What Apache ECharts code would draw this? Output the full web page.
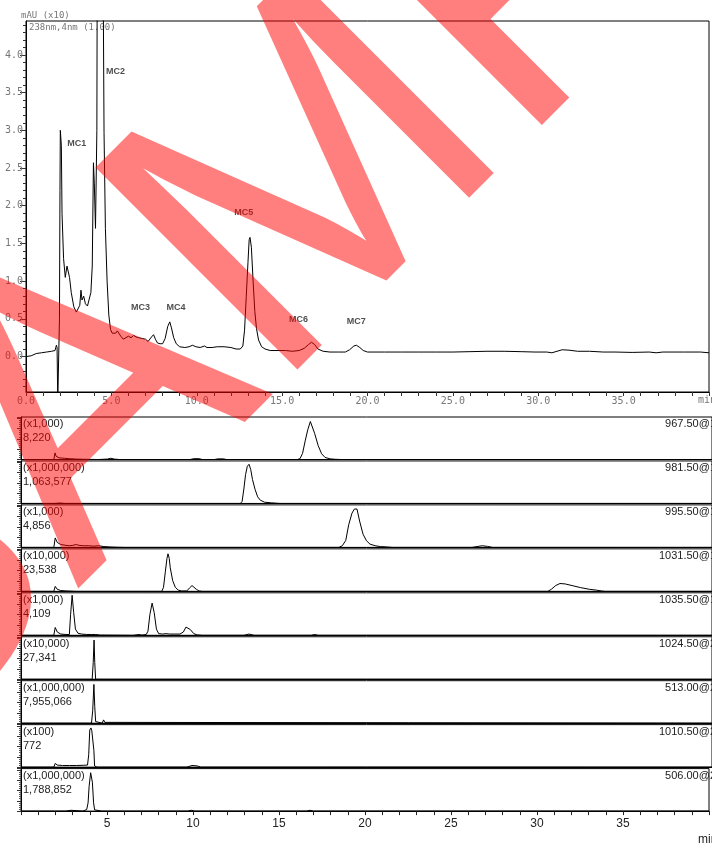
<!DOCTYPE html>
<html><head><meta charset="utf-8">
<script src="https://cdn.jsdelivr.net/npm/echarts@6/dist/echarts.min.js"></script>
<style>html,body{margin:0;padding:0;background:#fff}#c{width:712px;height:844px}</style>
</head><body><div id="c"></div>
<script>
// ---------- DATA ----------
const topYTickLabels = [0.0, 0.5, 1.0, 1.5, 2.0, 2.5, 3.0, 3.5, 4.0];
const topTrace = [[0,0],[0.3,0.01],[0.6,0.04],[0.9,0.05],[1.2,0.06],[1.5,0.07],[1.7,0.08],[1.78,0.15],[1.82,0.12],[1.86,-0.6],[1.94,-0.6],[1.96,0.5],[1.99,2.2],[2.01,3.0],[2.04,3.02],[2.07,2.8],[2.11,1.9],[2.2,1.3],[2.3,1.05],[2.4,1.2],[2.48,1.22],[2.55,1.05],[2.65,0.85],[2.8,0.66],[2.95,0.59],[3.05,0.6],[3.15,0.68],[3.22,0.88],[3.28,0.75],[3.38,0.8],[3.48,0.7],[3.6,0.67],[3.7,0.69],[3.8,0.85],[3.88,1.2],[3.95,2.57],[4.0,2.3],[4.07,1.7],[4.15,3.0],[4.2,8.0],[4.3,12],[4.45,12],[4.52,5.0],[4.57,2.97],[4.65,1.7],[4.75,1.0],[4.85,0.55],[4.95,0.36],[5.05,0.31],[5.15,0.33],[5.25,0.31],[5.35,0.34],[5.45,0.35],[5.55,0.27],[5.7,0.23],[5.85,0.25],[6.0,0.27],[6.15,0.25],[6.3,0.28],[6.45,0.26],[6.6,0.25],[6.8,0.24],[7.0,0.23],[7.15,0.2],[7.25,0.21],[7.35,0.26],[7.47,0.29],[7.58,0.23],[7.7,0.18],[7.85,0.17],[8.0,0.17],[8.15,0.24],[8.3,0.4],[8.42,0.46],[8.52,0.38],[8.65,0.25],[8.8,0.17],[9.0,0.13],[9.3,0.12],[9.55,0.13],[9.75,0.15],[9.95,0.13],[10.2,0.12],[10.45,0.14],[10.6,0.12],[10.9,0.12],[11.2,0.13],[11.6,0.13],[12.0,0.12],[12.3,0.1],[12.55,0.1],[12.7,0.14],[12.8,0.35],[12.9,0.8],[13.0,1.25],[13.07,1.55],[13.12,1.58],[13.2,1.45],[13.3,1.0],[13.4,0.6],[13.5,0.37],[13.62,0.22],[13.8,0.13],[14.0,0.1],[14.3,0.08],[14.7,0.08],[15.2,0.08],[15.6,0.07],[16.0,0.08],[16.3,0.11],[16.55,0.16],[16.72,0.19],[16.9,0.16],[17.1,0.1],[17.4,0.07],[17.8,0.06],[18.3,0.06],[18.7,0.06],[18.95,0.09],[19.2,0.14],[19.35,0.15],[19.55,0.12],[19.75,0.08],[20.0,0.06],[21,0.06],[22,0.06],[23,0.06],[24,0.06],[25,0.06],[26,0.065],[27,0.07],[28,0.07],[29,0.065],[29.8,0.06],[30.5,0.06],[30.8,0.05],[31.1,0.07],[31.4,0.09],[31.8,0.085],[32.3,0.07],[33,0.07],[33.8,0.06],[34.5,0.06],[35.5,0.055],[36.5,0.06],[36.9,0.05],[37.3,0.06],[38.5,0.06],[39.5,0.06],[40,0.05]];
const peakNames = ['MC1','MC2','MC3','MC4','MC5','MC6','MC7'];
const peakLabelT = [2.97, 5.24, 6.70, 8.79, 12.75, 15.96, 19.34];
const peakLabelV = [2.83, 3.78, 0.646, 0.646, 1.91, 0.487, 0.465];

const traceNames = ['967.50@1','981.50@1','995.50@1','1031.50@1','1035.50@1','1024.50@2','513.00@2','1010.50@2','506.00@2'];
const scaleLabels = ['(x1,000)','(x1,000,000)','(x1,000)','(x10,000)','(x1,000)','(x10,000)','(x1,000,000)','(x100)','(x1,000,000)'];
const maxLabels = ['8,220','1,063,577','4,856','23,538','4,109','27,341','7,955,066','772','1,788,852'];

const trace967 = [[0,0],[1.9,0],[1.97,16],[2.03,8],[2.2,4],[2.5,3],[2.8,2],[3.2,1],[3.6,0.5],[4.5,0],[5.0,1],[5.2,3],[5.4,1],[5.7,0],[9.8,0],[10.0,2],[10.3,2],[10.5,0],[11.2,0],[11.4,1.5],[11.7,1.5],[11.9,0],[16.0,0],[16.15,2],[16.3,15],[16.45,45],[16.6,72],[16.75,92],[16.85,93],[17.0,63],[17.2,34],[17.4,14],[17.6,5],[17.9,1.5],[18.2,0.5],[18.5,0],[40,0]];
const trace981 = [[0,0],[1.9,0],[2.0,2],[2.3,1],[2.5,0],[12.7,0],[12.8,5],[12.9,35],[13.0,70],[13.1,90],[13.2,95],[13.3,82],[13.4,58],[13.55,34],[13.7,16],[13.85,8],[14.1,3],[14.5,1.5],[14.8,0.5],[15,0],[40,0]];
const trace995 = [[0,0],[1.9,0],[1.98,23],[2.1,12],[2.3,7],[2.6,5],[2.8,4],[3.0,5],[3.2,7],[3.35,5],[3.6,4],[3.9,4],[4.2,3],[4.5,4],[4.8,2],[5.2,1],[5.5,0.5],[6,0],[18.4,0],[18.6,4],[18.8,17],[18.97,55],[19.16,83],[19.3,93],[19.45,93],[19.6,64],[19.8,32],[20.0,16],[20.2,8],[20.5,4],[20.8,2],[21.2,1],[21.5,0],[26.1,0],[26.4,2],[26.7,4],[27.0,2.5],[27.3,0],[40,0]];
const trace1031 = [[0,0],[1.9,0],[1.98,12],[2.1,5],[2.3,2],[2.6,1],[3.2,0],[4.0,0],[4.05,3],[4.12,0],[8.15,0],[8.25,10],[8.36,49],[8.45,80],[8.51,91],[8.58,80],[8.64,57],[8.78,26],[8.93,10],[9.1,3],[9.3,1],[9.6,1],[9.75,8],[9.9,14],[10.0,12],[10.15,5],[10.3,1],[10.5,0],[30.5,0],[30.7,5],[30.95,14],[31.2,19],[31.5,18],[31.9,14],[32.4,9],[32.9,5],[33.3,3],[33.6,1],[33.8,0],[40,0]];
const trace1035 = [[0,0],[1.9,0],[1.98,19],[2.1,8],[2.3,3],[2.6,2],[2.8,2],[2.87,50],[2.96,97],[3.05,55],[3.15,15],[3.3,5],[3.5,3],[3.8,2],[4.1,2],[4.2,4],[4.3,2],[4.6,0.5],[6.5,0],[6.85,2],[7.0,0.5],[7.25,2],[7.35,10],[7.46,50],[7.59,78],[7.71,55],[7.84,15],[7.97,4],[8.2,3],[8.4,4],[8.6,3],[9.2,3],[9.4,8],[9.55,20],[9.65,24],[9.8,14],[10.0,4],[10.2,1],[10.5,0],[12.9,0],[13.2,3],[13.5,0],[16.8,0],[17.0,2],[17.2,0],[40,0]];
const trace1024 = [[0,0],[4.12,0],[4.18,40],[4.23,95],[4.27,40],[4.32,0],[4.75,0],[4.78,3],[4.82,0],[40,0]];
const trace513 = [[0,0],[4.08,0],[4.15,30],[4.22,94],[4.27,40],[4.32,4],[4.4,1],[4.7,0],[4.78,8],[4.85,2],[4.95,0],[40,0]];
const trace1010 = [[0,0],[1.9,0],[1.98,9],[2.1,5],[2.4,4],[2.8,4],[3.2,4],[3.6,4.5],[3.85,5],[3.92,30],[3.98,90],[4.05,95],[4.1,88],[4.18,85],[4.22,40],[4.26,3],[4.4,0],[9.6,0],[9.9,4],[10.2,3],[10.4,0],[40,0]];
const trace506 = [[0,0],[1.95,0],[2.0,2],[2.1,0],[2.6,0],[2.7,2],[2.9,2],[3.0,0],[3.6,0],[3.7,3],[3.82,4],[3.9,20],[3.96,60],[4.05,93],[4.15,70],[4.22,20],[4.28,3],[4.35,0],[4.7,0],[4.75,2],[4.8,0],[5.1,0],[5.15,1.5],[5.2,0],[9.7,0],[9.9,2],[10.1,0],[16.6,0],[16.8,2],[17.0,0],[40,0]];
const lowerTraces = [trace967, trace981, trace995, trace1031, trace1035, trace1024, trace513, trace1010, trace506];

// ---------- CHART ----------
const chart = echarts.init(document.getElementById('c'), null, {renderer:'canvas'});
const mono = '"DejaVu Sans Mono", monospace';
const sans = '"Liberation Sans", Arial, sans-serif';
const minorTicks = [];
for (let k = -4; k <= 44; k++) { if (k % 5 !== 0) minorTicks.push(k / 10); }

const grids = [{left:26, top:21, width:687, height:371, show:true, borderColor:'#000', borderWidth:1}];
const xAxes = [{gridIndex:0, type:'value', min:0, max:40, interval:1,
  axisLine:{onZero:false, lineStyle:{color:'#000', width:1}},
  axisTick:{show:true, length:4, lineStyle:{color:'#333'}},
  axisLabel:{color:'#777', fontFamily:mono, fontSize:10, margin:4,
    formatter:v => (v % 5 === 0 && v < 40) ? v.toFixed(1) : ''},
  splitLine:{show:false}}];
const yAxes = [
  {gridIndex:0, type:'value', min:-0.47, max:4.45, position:'left',
   axisLine:{show:true, onZero:false, lineStyle:{color:'#000'}},
   axisTick:{show:true, length:6, customValues:topYTickLabels, lineStyle:{color:'#333'}},
   axisLabel:{customValues:topYTickLabels, formatter:v => v.toFixed(1), color:'#777', fontFamily:mono, fontSize:10, margin:3},
   splitLine:{show:false}},
  {gridIndex:0, type:'value', min:-0.47, max:4.45, position:'left',
   axisLine:{show:false, onZero:false},
   axisTick:{show:true, length:3, customValues:minorTicks, lineStyle:{color:'#333'}},
   axisLabel:{show:false}, splitLine:{show:false}}
];
const series = [
  {type:'line', xAxisIndex:0, yAxisIndex:0, data:topTrace, symbol:'none', clip:true,
   lineStyle:{color:'#000', width:1}, silent:true, z:2},
  {type:'scatter', xAxisIndex:0, yAxisIndex:0, symbolSize:1, itemStyle:{color:'rgba(0,0,0,0)'}, silent:true, z:3,
   data: peakNames.map((n,i) => [peakLabelT[i], peakLabelV[i], n]),
   label:{show:true, position:'inside', formatter:p => p.data[2], color:'#222', fontWeight:'bold', fontSize:9, fontFamily:sans}}
];
const graphics = [
  {type:'text', x:21, y:16, style:{text:'mAU (x10)', font:'9px ' + mono, fill:'#777', textVerticalAlign:'middle', verticalAlign:'middle'}},
  {type:'text', x:29, y:28, style:{text:'238nm,4nm (1.00)', font:'9px ' + mono, fill:'#777', textVerticalAlign:'middle', verticalAlign:'middle'}},
  {type:'text', x:698, y:400, style:{text:'min', font:'10px ' + mono, fill:'#777', textVerticalAlign:'middle', verticalAlign:'middle'}},
  {type:'text', x:698, y:840, style:{text:'min', font:'12px ' + sans, fill:'#222', textVerticalAlign:'middle', verticalAlign:'middle'}}
];

lowerTraces.forEach((tr, i) => {
  const top = 417 + i * 43.95;
  const last = i === lowerTraces.length - 1;
  grids.push({left:21, top:top, width:697, height:42.5, show:true, borderColor:'#000', borderWidth:1});
  xAxes.push({gridIndex:i+1, type:'value', min:0, max:40, interval:1,
    axisLine:{onZero:false, lineStyle:{color:'#000'}},
    axisTick:{show:last, length:4, lineStyle:{color:'#222'}},
    axisLabel:{show:last, color:'#222', fontFamily:sans, fontSize:12, margin:7,
      formatter:v => (v % 5 === 0 && v > 0 && v < 40) ? String(v) : ''},
    splitLine:{show:false}});
  yAxes.push({gridIndex:i+1, type:'value', min:0, max:103, interval:25,
    axisLine:{show:true, onZero:false, lineStyle:{color:'#000'}},
    axisTick:{show:true, length:4, lineStyle:{color:'#333'}},
    minorTick:{show:true, splitNumber:5, length:2, lineStyle:{color:'#555'}},
    axisLabel:{show:false}, splitLine:{show:false}});
  series.push({type:'line', xAxisIndex:i+1, yAxisIndex:i+2, data:tr, symbol:'none', clip:true,
    lineStyle:{color:'#000', width:1}, silent:true});
  graphics.push({type:'text', x:23, y:top+7, style:{text:scaleLabels[i], font:'11px ' + sans, fill:'#222', textVerticalAlign:'middle', verticalAlign:'middle'}});
  graphics.push({type:'text', x:23, y:top+21, style:{text:maxLabels[i], font:'11px ' + sans, fill:'#222', textVerticalAlign:'middle', verticalAlign:'middle'}});
  graphics.push({type:'text', x:716, y:top+7, style:{text:traceNames[i], font:'11px ' + sans, fill:'#222', textAlign:'right', align:'right', textVerticalAlign:'middle', verticalAlign:'middle'}});
});

// watermark
graphics.push({type:'text', x:-199, y:704, rotation:Math.PI/4, z:100, silent:true,
  style:{text:'SAMPLE', font:'415px ' + sans, fill:'rgba(255,0,0,0.5)', textAlign:'left', align:'left', textVerticalAlign:'middle', verticalAlign:'middle'}});

chart.setOption({
  animation:false, backgroundColor:'#fff',
  grid:grids, xAxis:xAxes, yAxis:yAxes, series:series, graphic:graphics
});
</script></body></html>
